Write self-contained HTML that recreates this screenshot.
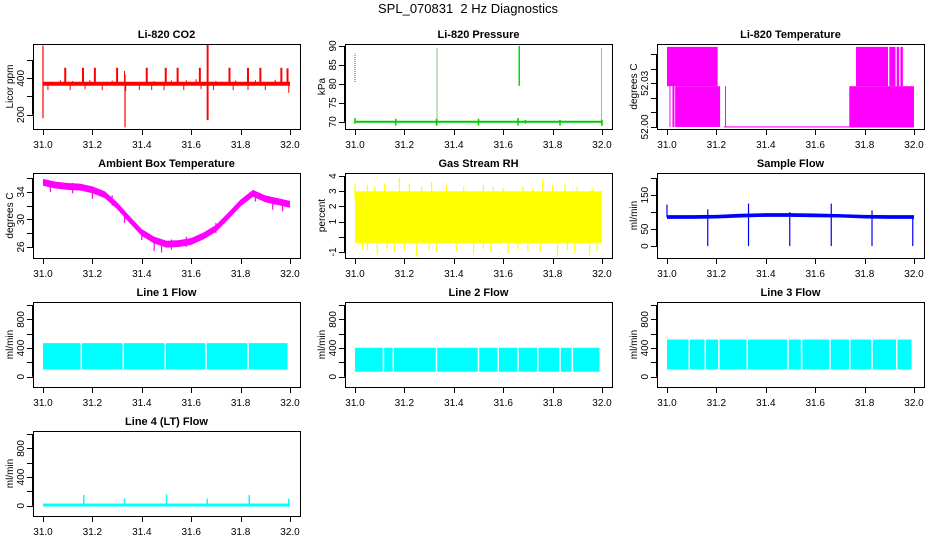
<!DOCTYPE html>
<html><head><meta charset="utf-8">
<style>
html,body{margin:0;padding:0;background:#fff;}
svg{display:block;font-family:"Liberation Sans",sans-serif;}
</style></head>
<body>
<svg id="chart" width="936" height="540" viewBox="0 0 936 540" xmlns="http://www.w3.org/2000/svg">
<rect width="936" height="540" fill="#fff"/>
<text x="468" y="13" text-anchor="middle" font-size="13">SPL_070831 &#160;2 Hz Diagnostics</text>
</svg>
<script>
// ---------- data ----------
const xTicks=[31.0,31.2,31.4,31.6,31.8,32.0];
const xTickLabels=["31.0","31.2","31.4","31.6","31.8","32.0"];

// CO2
const co2BaseT=[31.0,32.0]; const co2Base=[370,370];
const co2UpT=[31.09,31.162,31.21,31.30,31.42,31.497,31.545,31.635,31.755,31.83,31.88,31.965,31.99];
const co2UpV=[458,458,458,458,458,458,458,458,458,458,458,458,455];
const co2SmallT=[31.07,31.12,31.19,31.28,31.33,31.45,31.52,31.58,31.62,31.7,31.78,31.86,31.94];
const co2SmallV=[390,385,390,388,440,385,388,390,395,385,388,390,392];
const co2DownT=[31.02,31.11,31.17,31.24,31.335,31.39,31.44,31.49,31.57,31.64,31.69,31.77,31.83,31.9,31.995];
const co2DownV=[335,335,340,335,330,335,335,335,335,340,335,335,335,335,320];
const co2BigT=[31.0,31.332,31.665,31.668];
const co2BigLo=[180,130,170,170];
const co2BigHi=[580,420,590,590];

// Pressure
const presT=[31.0,32.0]; const presV=[70,70];
const presVertT=[31.0,31.332,31.665,31.998];
const presVertLo=[80.5,69,79.5,69];
const presVertHi=[88,89.5,90,89.3];
const presTickT=[31.0,31.165,31.33,31.5,31.66,31.69,31.83,32.0];
const presTickLo=[69.5,69,69,69,69,69.5,69,69];
const presTickHi=[71,70.8,70.8,70.8,71,70.5,70.5,70.5];

// Li-820 temperature blocks
const tempSegStart=[31.0,31.01,31.022,31.033,31.235,31.738,31.765,31.9,31.93,31.945];
const tempSegEnd=[31.205,31.012,31.03,31.215,31.238,32.0,31.895,31.925,31.94,31.955];
const tempSegLo=[52.028,52.0,52.0,52.0,52.0,52.0,52.028,52.028,52.028,52.028];
const tempSegHi=[52.055,52.028,52.028,52.028,52.028,52.028,52.055,52.055,52.055,52.055];
const tempBaseT=[31.23,32.0]; const tempBase=[52.0,52.0];

// Ambient box temperature
const ambT=[31.0,31.05,31.1,31.15,31.2,31.25,31.3,31.35,31.4,31.45,31.5,31.55,31.6,31.65,31.7,31.75,31.8,31.85,31.9,31.95,32.0];
const ambV=[35.4,35.0,34.8,34.7,34.3,33.6,32.0,30.0,28.1,27.0,26.4,26.5,26.8,27.6,28.7,30.5,32.4,33.8,33.0,32.6,32.2];
const ambSpikeT=[31.03,31.12,31.2,31.28,31.33,31.4,31.45,31.48,31.52,31.58,31.7,31.86,31.93,31.97];
const ambSpikeV=[34.0,33.8,33.0,32.0,29.5,27.0,25.4,25.2,25.6,26.0,28.0,32.6,31.4,31.2];

// Gas stream RH
const rhT=[31.0,32.0]; const rhLo=[-0.4,-0.4]; const rhHi=[3.0,3.0];
const rhUpT=[31.0,31.05,31.08,31.12,31.18,31.22,31.27,31.31,31.37,31.44,31.52,31.56,31.6,31.68,31.72,31.76,31.8,31.85,31.9,31.96];
const rhUpV=[3.5,3.4,3.3,3.5,3.9,3.5,3.3,3.6,3.4,3.3,3.4,3.3,3.2,3.3,3.2,3.8,3.4,3.5,3.3,3.2];
const rhDnT=[31.03,31.05,31.09,31.13,31.16,31.2,31.25,31.3,31.33,31.41,31.48,31.52,31.55,31.62,31.66,31.7,31.75,31.82,31.86,31.89,31.95,31.98];
const rhDnV=[-0.8,-0.9,-1.2,-0.8,-1.0,-0.8,-1.3,-0.9,-1.0,-0.9,-1.2,-0.8,-1.0,-1.1,-0.8,-0.9,-1.0,-1.3,-0.9,-1.1,-1.2,-0.9];

// Sample flow
const sfT=[31.0,31.1,31.2,31.3,31.4,31.5,31.6,31.7,31.8,31.9,32.0];
const sfLo=[80,80,81,84,86,86,85,84,81,80,80];
const sfHi=[91,91,92,95,97,97,96,94,92,91,91];
const sfDropT=[31.165,31.33,31.497,31.665,31.83,31.995];
const sfDropLo=[0,0,0,0,0,0];
const sfSpikeT=[31.0,31.165,31.33,31.497,31.665,31.83];
const sfSpikeV=[122,108,125,100,125,105];

// Line flows
const l1Lo=[100,100]; const l1Hi=[470,470];
const l1GapT=[31.155,31.325,31.495,31.66,31.83];
const l2Lo=[70,70]; const l2Hi=[405,405];
const l2GapT=[31.115,31.155,31.33,31.50,31.58,31.66,31.74,31.83,31.88];
const l3Lo=[100,100]; const l3Hi=[520,520];
const l3GapT=[31.09,31.155,31.21,31.325,31.49,31.545,31.66,31.74,31.83,31.93];
const flowT=[31.0,31.99];
const l4T=[31.0,32.0]; const l4V=[10,10];
const l4SpikeT=[31.165,31.33,31.5,31.665,31.835,31.995];
const l4SpikeV=[150,100,160,100,150,100];

// ---------- drawing ----------
const svg=document.getElementById('chart');
const NS='http://www.w3.org/2000/svg';
const colX=[33,345,657], rowY=[44,173,302,431], W=267, H=85;
function mk(tag,attrs,parent){const e=document.createElementNS(NS,tag);for(const k in attrs)e.setAttribute(k,attrs[k]);(parent||svg).appendChild(e);return e;}

function panel(name,col,row,title,ylab,y0,y1,yt,ytl){
  const g=mk('g',{});
  
  
  const L=colX[col],T=rowY[row];
  const sx=v=>L+10+(v-31)*(W-20);
  const sy=v=>T+H-(v-y0)/(y1-y0)*H;
  const clip=mk('clipPath',{id:'c'+name},g);
  mk('rect',{x:L,y:T,width:W,height:H},clip);
  const plot=mk('g',{'clip-path':'url(#c'+name+')'},g);
  
  
  const frame=mk('rect',{x:L+0.5,y:T+0.5,width:W,height:H,fill:'none',stroke:'#000','stroke-width':1},g);
  
  
  const t=mk('text',{x:L+W/2,y:T-6,'text-anchor':'middle','font-size':11,'font-weight':'bold'},g);
  t.textContent=title;
  
  
  const yl=mk('text',{transform:`translate(${L-20},${T+H/2}) rotate(-90)`,'text-anchor':'middle','font-size':10},g);
  yl.textContent=ylab;
  
  
  const xa=mk('g',{},g);
  
  
  mk('line',{x1:sx(31),x2:sx(32),y1:T+H+0.5,y2:T+H+0.5,stroke:'#000'},xa);
  xTicks.forEach((v,i)=>{
    mk('line',{x1:Math.round(sx(v))+0.5,x2:Math.round(sx(v))+0.5,y1:T+H,y2:T+H+6,stroke:'#000'},xa);
    const tl=mk('text',{x:sx(v),y:T+H+19,'text-anchor':'middle','font-size':10},xa);
    tl.textContent=xTickLabels[i];
    
    
  });
  const ya=mk('g',{},g);
  
  
  mk('line',{x1:L-0.5,x2:L-0.5,y1:sy(yt[0]),y2:sy(yt[yt.length-1]),stroke:'#000'},ya);
  yt.forEach((v,i)=>{
    const yy=Math.round(sy(v))+0.5;
    mk('line',{x1:L-6,x2:L,y1:yy,y2:yy,stroke:'#000'},ya);
    if(ytl[i]){
      const tl=mk('text',{transform:`translate(${L-9},${sy(v)}) rotate(-90)`,'text-anchor':'middle','font-size':10},ya);
      tl.textContent=ytl[i];
      
      
    }
  });
  return {sx,sy,plot};
}
function vline(p,x,a,b,color,w,nm,dash){
  const e=mk('line',{x1:p.sx(x),x2:p.sx(x),y1:p.sy(a),y2:p.sy(b),stroke:color,'stroke-width':w||1},p.plot);
  if(dash)e.setAttribute('stroke-dasharray',dash);
  
  
}
function pline(p,xs,ys,color,w,nm){
  const e=mk('polyline',{points:xs.map((x,i)=>p.sx(x)+','+p.sy(ys[i])).join(' '),fill:'none',stroke:color,'stroke-width':w||1},p.plot);
  
  
}
function band(p,xs,lo,hi,color,nm){
  const pts=xs.map((x,i)=>p.sx(x)+','+p.sy(hi[i])).concat(xs.slice().reverse().map((x,j)=>p.sx(x)+','+p.sy(lo[xs.length-1-j])));
  const e=mk('polygon',{points:pts.join(' '),fill:color},p.plot);
  
  
}

// CO2
let p=panel('co2',0,0,'Li-820 CO2','Licor ppm',121,589,[200,300,400,500],['200','','400','']);
pline(p,co2BaseT,co2Base,'red',4,'co2-line');
co2UpT.forEach((t,i)=>vline(p,t,co2Base[0],co2UpV[i],'red',2));
co2SmallT.forEach((t,i)=>vline(p,t,co2Base[0],co2SmallV[i],'red',1));
co2DownT.forEach((t,i)=>vline(p,t,co2Base[0],co2DownV[i],'red',1));
co2BigT.forEach((t,i)=>vline(p,t,co2BigLo[i],co2BigHi[i],'red',1.2));

// Pressure
p=panel('pressure',1,0,'Li-820 Pressure','kPa',68.1,90.5,[70,75,80,85,90],['70','75','80','85','90']);
pline(p,presT,presV,'#00cc00',2,'pressure-line');
presTickT.forEach((t,i)=>vline(p,t,presTickLo[i],presTickHi[i],'#00cc00',1.5));
presVertT.forEach((t,i)=>vline(p,t,presVertLo[i],presVertHi[i],'#22aa22',1.2,'pressure-spike','1,1'));
vline(p,presVertT[2],presVertLo[2],presVertHi[2],'#00dd00',1.5,'pressure-spike');

// Li-820 temperature
p=panel('li820-temp',2,0,'Li-820 Temperature','degrees C',51.9986,52.057,[52.0,52.01,52.02,52.03,52.04,52.05],['52.00','','','52.03','','']);
pline(p,tempBaseT,tempBase,'magenta',1.2,'temp-baseline');
tempSegStart.forEach((s,i)=>{
  const e=mk('rect',{x:p.sx(s),y:p.sy(tempSegHi[i]),width:Math.max(1,p.sx(tempSegEnd[i])-p.sx(s)),height:p.sy(tempSegLo[i])-p.sy(tempSegHi[i]),fill:'magenta'},p.plot);
  
  
});

// Ambient
p=panel('ambient',0,1,'Ambient Box Temperature','degrees C',24.4,36.75,[26,28,30,32,34,36],['26','','30','','34','']);
band(p,ambT,ambV.map(v=>v-0.5),ambV.map(v=>v+0.5),'magenta','ambient-band');
ambSpikeT.forEach((t,i)=>vline(p,t,ambSpikeV[i],ambSpikeV[i]+1.5,'magenta',1.2));

// RH
p=panel('rh',1,1,'Gas Stream RH','percent',-1.4,4.2,[-1,0,1,2,3,4],['-1','','1','2','3','4']);
band(p,rhT,rhLo,rhHi,'yellow','rh-band');
rhUpT.forEach((t,i)=>vline(p,t,2.5,rhUpV[i],'yellow',1.2));
rhDnT.forEach((t,i)=>vline(p,t,0,rhDnV[i],'yellow',1.2));

// Sample flow
p=panel('sample-flow',2,1,'Sample Flow','ml/min',-35,215,[0,50,100,150,200],['0','50','','150','']);
band(p,sfT,sfLo,sfHi,'blue','sample-flow-band');
sfDropT.forEach((t,i)=>vline(p,t,sfDropLo[i],85,'blue',1.2));
sfSpikeT.forEach((t,i)=>vline(p,t,85,sfSpikeV[i],'blue',1.2));

// Line flows
function flowPanel(nm,col,row,title,lo,hi,gaps){
  const q=panel(nm,col,row,title,'ml/min',-144,1044,[0,200,400,600,800,1000],['0','','400','','800','']);
  band(q,flowT,lo,hi,'cyan',nm+'-band');
  gaps.forEach(t=>vline(q,t,lo[0]-5,hi[0]+5,'#fff',1.5,'flow-gap'));
  return q;
}
flowPanel('line1',0,2,'Line 1 Flow',l1Lo,l1Hi,l1GapT);
flowPanel('line2',1,2,'Line 2 Flow',l2Lo,l2Hi,l2GapT);
flowPanel('line3',2,2,'Line 3 Flow',l3Lo,l3Hi,l3GapT);
p=panel('line4',0,3,'Line 4 (LT) Flow','ml/min',-144,1044,[0,200,400,600,800,1000],['0','','400','','800','']);
pline(p,l4T,l4V,'cyan',3,'line4-line');
l4SpikeT.forEach((t,i)=>vline(p,t,l4V[0],l4SpikeV[i],'cyan',1.5));
</script>
</body></html>
